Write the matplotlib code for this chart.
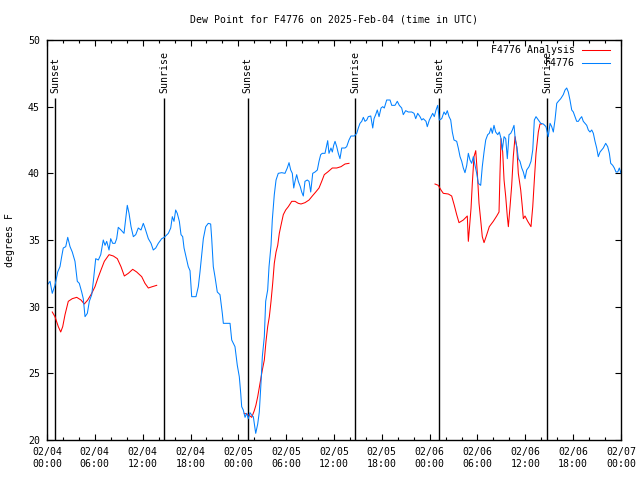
import matplotlib
matplotlib.use("Agg")
import matplotlib.pyplot as plt
from matplotlib.lines import Line2D

plt.rcParams['font.family'] = ['DejaVu Sans Mono']

# hours since 2025-02-04 00:00 UTC
obs_h = [0.0, 0.38, 0.66, 1.0, 1.34, 1.63, 1.84, 2.04, 2.35, 2.60, 2.89, 3.17, 3.51, 3.80, 4.05, 4.35,
         4.55, 4.77, 5.06, 5.31, 5.61, 5.81, 6.11, 6.44, 6.74, 7.06, 7.28, 7.49, 7.78, 7.99, 8.24, 8.53,
         8.74, 8.94, 9.28, 9.66, 9.87, 10.07, 10.29, 10.54, 10.83, 11.13, 11.45, 11.79, 12.08, 12.29,
         12.71, 13.05, 13.33, 13.64, 13.96, 14.39, 14.71,
         15.22, 15.52, 15.72, 15.93, 16.14, 16.34, 16.60, 16.81, 17.02, 17.19, 17.44, 17.72, 17.94,
         18.15, 18.69, 18.98, 19.19, 19.41, 19.61, 19.91, 20.23, 20.53, 20.66, 20.86, 21.07, 21.36,
         21.70, 21.99, 22.12, 22.96, 23.17, 23.58, 23.87, 24.12, 24.30, 24.42, 24.62, 24.84, 25.05,
         25.25, 25.46, 25.75, 25.88, 26.18, 26.43, 26.63, 26.84, 27.01, 27.26, 27.43, 27.68, 27.85,
         28.10, 28.26, 28.51, 28.73, 29.01, 29.44, 29.85, 30.14, 30.36, 30.57, 30.77, 30.95, 31.11,
         31.32, 31.52, 31.77, 31.95, 32.15, 32.36, 32.65, 32.87, 33.08, 33.33, 33.62, 33.91, 34.12,
         34.33, 34.53, 34.87, 35.09, 35.21, 35.37, 35.62, 35.79, 35.96, 36.13, 36.34, 36.54, 36.75,
         36.97, 37.38, 37.59, 37.88, 38.13, 38.55, 38.85, 39.05, 39.26, 39.48, 39.68, 39.89, 40.11,
         40.30, 40.61, 40.86, 41.02, 41.23, 41.43, 41.65, 41.90, 42.11, 42.31, 42.61, 43.03, 43.24,
         43.65, 43.94, 44.19, 44.49, 44.69, 44.99, 45.32, 45.75, 46.04, 46.25, 46.50, 46.79, 47.00,
         47.20, 47.54, 47.70, 47.96, 48.17, 48.38, 48.58, 48.80, 49.01, 49.21, 49.51, 49.80, 50.01,
         50.21, 50.43, 50.64, 50.84, 51.05, 51.39, 51.59, 51.81, 52.02, 52.22, 52.43, 52.65, 52.85,
         53.06, 53.27, 53.48, 53.69, 53.90, 54.10, 54.40, 54.60, 54.82, 55.03, 55.28, 55.48, 55.69,
         55.86, 56.07, 56.28, 56.54, 56.74, 56.95, 57.11, 57.33, 57.54, 57.74, 57.95, 58.17, 58.37,
         58.58, 58.74, 58.96, 59.12, 59.33, 59.55, 59.75, 59.96, 60.17, 60.46, 60.71, 60.93, 61.13,
         61.34, 61.63, 61.93, 62.26, 62.59, 62.88, 63.10, 63.31, 63.51, 63.72, 63.94, 64.14, 64.44,
         64.76, 64.98, 65.19, 65.39, 65.60, 65.82, 66.02, 66.23, 66.44, 66.65, 66.86, 67.07, 67.27,
         67.49, 67.70, 67.90, 68.11, 68.33, 68.53, 68.74, 68.95, 69.15, 69.37, 69.58, 69.78, 70.08,
         70.33, 70.54, 70.71, 70.96, 71.16, 71.37, 71.59, 71.79, 72.0]
obs_dew = [31.6, 31.9, 31.0, 31.6, 32.6, 33.0, 33.75, 34.4, 34.5, 35.2, 34.5, 34.1, 33.4, 31.9, 31.75, 31.1,
           30.6, 29.25, 29.5, 30.4, 30.9, 31.9, 33.6, 33.5, 33.9, 35.0, 34.6, 34.9, 34.25, 35.1, 34.75, 34.75,
           35.1, 35.95, 35.75, 35.5, 36.6, 37.6, 37.0, 36.0, 35.25, 35.4, 35.9, 35.75, 36.25, 35.9,
           35.1, 34.75, 34.25, 34.4, 34.75, 35.1, 35.2,
           35.5, 35.9, 36.75, 36.4, 37.25, 37.0, 36.4, 35.4, 35.25, 34.4, 33.75, 33.0, 32.7,
           30.75, 30.75, 31.5, 32.6, 33.9, 35.1, 36.0, 36.25, 36.2, 35.1, 33.0, 32.25, 31.1,
           30.9, 29.5, 28.75, 28.75, 27.5, 27.0, 25.6, 24.75, 23.5, 22.5, 22.25, 21.7, 22.0,
           21.6, 22.05, 21.8, 21.75, 20.5, 21.2, 22.1, 24.25, 26.25, 27.75, 30.4, 31.25, 33.0,
           34.6, 36.5, 38.4, 39.5, 40.0, 40.05, 40.0, 40.4, 40.8, 40.25, 40.0, 38.9, 39.4,
           39.9, 39.4, 39.0, 38.6, 38.3, 39.4, 39.5, 39.4, 38.6, 40.0, 40.1, 40.25, 40.9,
           41.4, 41.5, 41.5, 42.1, 42.45, 41.5, 41.9, 41.6, 42.1, 42.4, 42.0, 41.5, 41.1,
           41.9, 41.9, 42.0, 42.5, 42.8, 42.8, 43.0, 43.4, 43.75, 43.9, 44.2, 43.9, 44.0,
           44.25, 44.3, 43.4, 44.1, 44.4, 44.75, 44.25, 44.9, 45.0, 44.9, 45.5, 45.5, 45.1,
           45.1, 45.4, 45.1, 44.9, 44.4, 44.7, 44.6, 44.6, 44.5, 44.1, 44.5, 44.25, 44.0,
           44.1, 43.9, 43.5, 44.0, 44.25, 44.5, 44.25, 44.75, 45.1, 44.0, 44.1, 44.6, 44.4,
           44.7, 44.25, 44.0, 43.1, 42.5, 42.4, 41.9, 41.25, 40.9, 40.4, 40.05, 40.6, 41.5,
           41.0, 40.75, 41.25, 40.6, 40.0, 39.25, 39.1, 40.5, 41.6, 42.5, 42.9, 43.0, 43.4,
           43.0, 43.6, 43.1, 42.9, 43.1, 42.6, 41.75, 42.75, 42.6, 41.1, 42.9, 43.0, 43.25,
           43.6, 42.5, 41.9, 41.1, 40.9, 40.4, 40.1, 39.6, 40.25, 40.5, 40.9, 41.75, 44.0,
           44.25, 44.0, 43.75, 43.7, 43.5, 42.75, 43.75, 43.5, 43.1, 44.0, 45.25, 45.4, 45.6,
           45.9, 46.25, 46.4, 46.1, 45.5, 44.75, 44.6, 44.25, 43.9, 43.9, 44.1, 44.25, 43.9,
           43.75, 43.6, 43.25, 43.1, 43.25, 43.0, 42.4, 41.9, 41.25, 41.6, 41.75, 41.9, 42.25,
           42.0, 41.5, 40.75, 40.6, 40.4, 40.1, 40.1, 40.4, 40.0]

# analysis series in three separate pieces
ana1_h = [0.66, 1.0, 1.42, 1.72, 1.97, 2.26, 2.67, 3.17, 3.73, 4.26, 4.68, 5.11, 5.61, 6.02, 6.36, 6.77,
          7.19, 7.78, 8.32, 8.82, 9.28, 9.70, 10.20, 10.75, 11.25, 11.88, 12.29, 12.71, 13.21, 13.76]
ana1_dew = [29.6, 29.25, 28.5, 28.1, 28.5, 29.4, 30.4, 30.6, 30.7, 30.5, 30.2, 30.5, 31.0, 31.5, 32.1, 32.75,
            33.4, 33.9, 33.8, 33.6, 33.0, 32.3, 32.5, 32.8, 32.6, 32.25, 31.75, 31.4, 31.5, 31.6]
ana2_h = [24.75, 25.25, 25.68, 26.0, 26.2, 26.43, 26.72, 27.01, 27.26, 27.47, 27.68, 27.89, 28.10, 28.31,
          28.51, 28.73, 28.94, 29.14, 29.35, 29.64, 29.94, 30.27, 30.70, 31.11, 31.52, 31.86, 32.36,
          32.87, 33.28, 33.71, 34.12, 34.46, 34.78, 35.21, 35.79, 36.34, 36.88, 37.38, 37.88]
ana2_dew = [22.0, 21.9, 21.7, 22.2, 22.6, 23.25, 24.25, 25.25, 26.0, 27.4, 28.5, 29.25, 30.4, 31.75,
            33.25, 34.1, 34.6, 35.5, 36.1, 36.9, 37.25, 37.5, 37.9, 37.9, 37.75, 37.7, 37.8,
            38.0, 38.3, 38.6, 38.9, 39.4, 39.9, 40.1, 40.4, 40.4, 40.5, 40.7, 40.75]
ana3_h = [48.67, 49.08, 49.42, 49.71, 50.34, 50.76, 51.09, 51.39, 51.68, 52.22, 52.72, 52.85, 52.97,
          53.19, 53.35, 53.56, 53.78, 53.98, 54.19, 54.44, 54.60, 54.82, 55.16, 55.48, 55.98, 56.41,
          56.70, 56.82, 56.95, 57.16, 57.33, 57.54, 57.74, 57.87, 58.08, 58.29, 58.49, 58.71, 58.92,
          59.12, 59.42, 59.62, 59.75, 59.96, 60.30, 60.71, 60.93, 61.13, 61.34, 61.63, 61.84, 62.05]
ana3_dew = [39.2, 39.1, 38.75, 38.5, 38.45, 38.3, 37.6, 36.9, 36.3, 36.5, 36.8, 34.9, 35.75,
            37.4, 39.25, 41.25, 41.7, 40.0, 37.75, 36.25, 35.25, 34.8, 35.4, 36.0, 36.4, 36.8,
            37.1, 40.0, 42.6, 41.6, 39.5, 38.25, 36.75, 36.0, 37.5, 39.1, 41.25, 42.75, 42.0,
            40.0, 38.75, 37.5, 36.6, 36.8, 36.4, 36.0, 37.5, 39.5, 41.5, 43.1, 43.7, 43.7]

sun_events_h = [1.04, 14.71, 25.18, 38.67, 49.23, 62.76]
sun_events = ["Sunset", "Sunrise", "Sunset", "Sunrise", "Sunset", "Sunrise"]

xtick_h = [0, 6, 12, 18, 24, 30, 36, 42, 48, 54, 60, 66, 72]
xtick_labels = ["02/04\n00:00", "02/04\n06:00", "02/04\n12:00", "02/04\n18:00",
                "02/05\n00:00", "02/05\n06:00", "02/05\n12:00", "02/05\n18:00",
                "02/06\n00:00", "02/06\n06:00", "02/06\n12:00", "02/06\n18:00",
                "02/07\n00:00"]
ytick_vals = [20, 25, 30, 35, 40, 45, 50]

BLUE = "#0080ff"
RED = "#ff0000"
FS = 7.1
LW = 0.75

fig = plt.figure(figsize=(6.4, 4.8), dpi=100)
ax = fig.add_axes([47/640, 40/480, 574/640, 400/480])

for h, name in zip(sun_events_h, sun_events):
    ax.vlines(h, 20, 45.65, color="black", linewidth=1.0)
    ax.text(h, 46.05, name, rotation=90, ha="center", va="bottom", fontsize=FS)

ax.plot(ana1_h, ana1_dew, color=RED, linewidth=LW)
ax.plot(ana2_h, ana2_dew, color=RED, linewidth=LW)
ax.plot(ana3_h, ana3_dew, color=RED, linewidth=LW)
ax.plot(obs_h, obs_dew, color=BLUE, linewidth=LW)

ax.set_xlim(0, 72)
ax.set_ylim(20, 50)
ax.set_xticks(xtick_h)
ax.set_xticklabels(xtick_labels, fontsize=FS, linespacing=1.25)
ax.set_xticks(range(0, 73, 2), minor=True)
ax.set_yticks(ytick_vals)
ax.set_yticklabels([str(v) for v in ytick_vals], fontsize=FS)
ax.tick_params(which="major", direction="in", length=4, width=0.8, top=True, right=True, pad=5)
ax.tick_params(which="minor", direction="in", length=2, width=0.8, top=True, right=False, left=False)
for s in ax.spines.values():
    s.set_linewidth(1.0)

# legend (top right, gnuplot style)
ax.text(0.92, 0.975, "F4776 Analysis", transform=ax.transAxes, ha="right", va="center", fontsize=FS)
ax.add_line(Line2D([0.932, 0.981], [0.975, 0.975], transform=ax.transAxes, color=RED, linewidth=LW))
ax.text(0.92, 0.9425, "F4776", transform=ax.transAxes, ha="right", va="center", fontsize=FS)
ax.add_line(Line2D([0.932, 0.981], [0.9425, 0.9425], transform=ax.transAxes, color=BLUE, linewidth=LW))

fig.text(334/640, 1 - 20/480, "Dew Point for F4776 on 2025-Feb-04 (time in UTC)",
         ha="center", va="center", fontsize=FS)
fig.text(10/640, 0.5, "degrees F", rotation=90, ha="center", va="center", fontsize=FS)

fig.savefig("out.png", dpi=100)
